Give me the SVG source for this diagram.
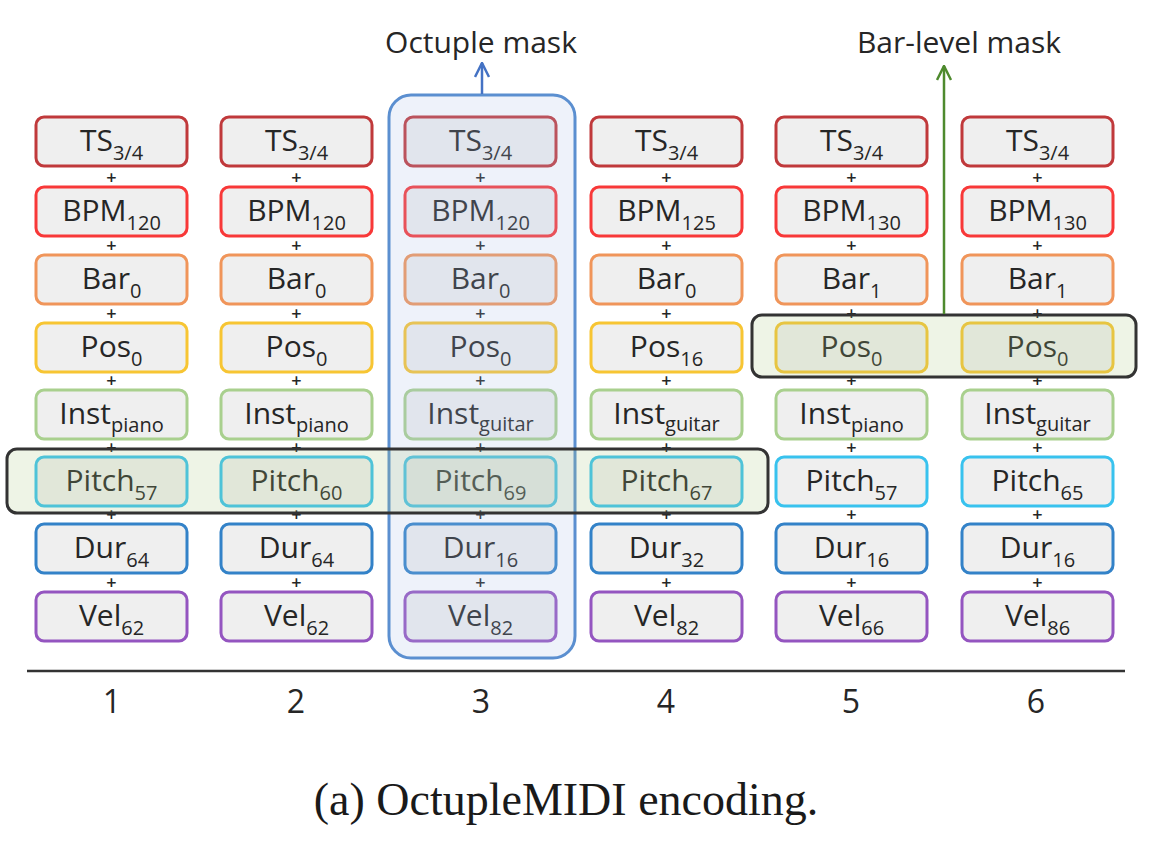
<svg xmlns="http://www.w3.org/2000/svg" width="1159" height="845" viewBox="0 0 1159 845">
<defs>
<style>
.box{fill:#efefef;stroke-width:3}
.ts{stroke:#c0393b}
.bpm{stroke:#f83838}
.bar{stroke:#f0955a}
.pos{stroke:#f7c533}
.inst{stroke:#a9d08e}
.pitch{stroke:#38c2ee}
.dur{stroke:#3382c8}
.vel{stroke:#9455c0}
.lbl{font-family:"Open Sans","Noto Sans",sans-serif;font-size:30px;fill:#262626;text-anchor:middle}
.sub{font-size:20px}
.plus{font-family:"Open Sans","Noto Sans",sans-serif;font-size:18px;font-weight:600;fill:#262626;text-anchor:middle}
.num{font-family:"Open Sans","Noto Sans",sans-serif;font-size:32px;fill:#262626;text-anchor:middle}
.mask{fill:#aac882;fill-opacity:0.2;stroke:#333333;stroke-width:3}
</style>
<marker id="ahBlue" viewBox="0 0 16 16" refX="15" refY="8" markerWidth="16" markerHeight="16" markerUnits="userSpaceOnUse" orient="auto">
<path d="M1,1 L15,8 L1,15" fill="none" stroke="#4472c4" stroke-width="2.5"/>
</marker>
<marker id="ahGreen" viewBox="0 0 16 16" refX="15" refY="8" markerWidth="16" markerHeight="16" markerUnits="userSpaceOnUse" orient="auto">
<path d="M1,1 L15,8 L1,15" fill="none" stroke="#4e8a2e" stroke-width="2.5"/>
</marker>
</defs>
<rect width="1159" height="845" fill="#ffffff"/>

<!-- Column 1 -->
<g id="col1">
<g id="c1-ts"><rect class="box ts" x="36" y="117" width="151" height="49" rx="8"/><text class="lbl" x="111.5" y="151">TS<tspan class="sub" dy="9">3/4</tspan></text></g>
<g id="c1-bpm"><rect class="box bpm" x="36" y="187" width="151" height="49" rx="8"/><text class="lbl" x="111.5" y="221">BPM<tspan class="sub" dy="9">120</tspan></text></g>
<g id="c1-bar"><rect class="box bar" x="36" y="255" width="151" height="49" rx="8"/><text class="lbl" x="111.5" y="289">Bar<tspan class="sub" dy="9">0</tspan></text></g>
<g id="c1-pos"><rect class="box pos" x="36" y="323" width="151" height="49" rx="8"/><text class="lbl" x="111.5" y="357">Pos<tspan class="sub" dy="9">0</tspan></text></g>
<g id="c1-inst"><rect class="box inst" x="36" y="390" width="151" height="49" rx="8"/><text class="lbl" x="111.5" y="424">Inst<tspan class="sub" dy="8">piano</tspan></text></g>
<g id="c1-pitch"><rect class="box pitch" x="36" y="457" width="151" height="49" rx="8"/><text class="lbl" x="111.5" y="491">Pitch<tspan class="sub" dy="9">57</tspan></text></g>
<g id="c1-dur"><rect class="box dur" x="36" y="524" width="151" height="49" rx="8"/><text class="lbl" x="111.5" y="558">Dur<tspan class="sub" dy="9">64</tspan></text></g>
<g id="c1-vel"><rect class="box vel" x="36" y="592" width="151" height="49" rx="8"/><text class="lbl" x="111.5" y="626">Vel<tspan class="sub" dy="9">62</tspan></text></g>
</g>

<!-- Column 2 -->
<g id="col2">
<g id="c2-ts"><rect class="box ts" x="221" y="117" width="151" height="49" rx="8"/><text class="lbl" x="296.5" y="151">TS<tspan class="sub" dy="9">3/4</tspan></text></g>
<g id="c2-bpm"><rect class="box bpm" x="221" y="187" width="151" height="49" rx="8"/><text class="lbl" x="296.5" y="221">BPM<tspan class="sub" dy="9">120</tspan></text></g>
<g id="c2-bar"><rect class="box bar" x="221" y="255" width="151" height="49" rx="8"/><text class="lbl" x="296.5" y="289">Bar<tspan class="sub" dy="9">0</tspan></text></g>
<g id="c2-pos"><rect class="box pos" x="221" y="323" width="151" height="49" rx="8"/><text class="lbl" x="296.5" y="357">Pos<tspan class="sub" dy="9">0</tspan></text></g>
<g id="c2-inst"><rect class="box inst" x="221" y="390" width="151" height="49" rx="8"/><text class="lbl" x="296.5" y="424">Inst<tspan class="sub" dy="8">piano</tspan></text></g>
<g id="c2-pitch"><rect class="box pitch" x="221" y="457" width="151" height="49" rx="8"/><text class="lbl" x="296.5" y="491">Pitch<tspan class="sub" dy="9">60</tspan></text></g>
<g id="c2-dur"><rect class="box dur" x="221" y="524" width="151" height="49" rx="8"/><text class="lbl" x="296.5" y="558">Dur<tspan class="sub" dy="9">64</tspan></text></g>
<g id="c2-vel"><rect class="box vel" x="221" y="592" width="151" height="49" rx="8"/><text class="lbl" x="296.5" y="626">Vel<tspan class="sub" dy="9">62</tspan></text></g>
</g>

<!-- Column 3 -->
<g id="col3">
<g id="c3-ts"><rect class="box ts" x="405" y="117" width="151" height="49" rx="8"/><text class="lbl" x="480.5" y="151">TS<tspan class="sub" dy="9">3/4</tspan></text></g>
<g id="c3-bpm"><rect class="box bpm" x="405" y="187" width="151" height="49" rx="8"/><text class="lbl" x="480.5" y="221">BPM<tspan class="sub" dy="9">120</tspan></text></g>
<g id="c3-bar"><rect class="box bar" x="405" y="255" width="151" height="49" rx="8"/><text class="lbl" x="480.5" y="289">Bar<tspan class="sub" dy="9">0</tspan></text></g>
<g id="c3-pos"><rect class="box pos" x="405" y="323" width="151" height="49" rx="8"/><text class="lbl" x="480.5" y="357">Pos<tspan class="sub" dy="9">0</tspan></text></g>
<g id="c3-inst"><rect class="box inst" x="405" y="390" width="151" height="49" rx="8"/><text class="lbl" x="480.5" y="424">Inst<tspan class="sub" dy="7">guitar</tspan></text></g>
<g id="c3-pitch"><rect class="box pitch" x="405" y="457" width="151" height="49" rx="8"/><text class="lbl" x="480.5" y="491">Pitch<tspan class="sub" dy="9">69</tspan></text></g>
<g id="c3-dur"><rect class="box dur" x="405" y="524" width="151" height="49" rx="8"/><text class="lbl" x="480.5" y="558">Dur<tspan class="sub" dy="9">16</tspan></text></g>
<g id="c3-vel"><rect class="box vel" x="405" y="592" width="151" height="49" rx="8"/><text class="lbl" x="480.5" y="626">Vel<tspan class="sub" dy="9">82</tspan></text></g>
</g>

<!-- Column 4 -->
<g id="col4">
<g id="c4-ts"><rect class="box ts" x="591" y="117" width="151" height="49" rx="8"/><text class="lbl" x="666.5" y="151">TS<tspan class="sub" dy="9">3/4</tspan></text></g>
<g id="c4-bpm"><rect class="box bpm" x="591" y="187" width="151" height="49" rx="8"/><text class="lbl" x="666.5" y="221">BPM<tspan class="sub" dy="9">125</tspan></text></g>
<g id="c4-bar"><rect class="box bar" x="591" y="255" width="151" height="49" rx="8"/><text class="lbl" x="666.5" y="289">Bar<tspan class="sub" dy="9">0</tspan></text></g>
<g id="c4-pos"><rect class="box pos" x="591" y="323" width="151" height="49" rx="8"/><text class="lbl" x="666.5" y="357">Pos<tspan class="sub" dy="9">16</tspan></text></g>
<g id="c4-inst"><rect class="box inst" x="591" y="390" width="151" height="49" rx="8"/><text class="lbl" x="666.5" y="424">Inst<tspan class="sub" dy="7">guitar</tspan></text></g>
<g id="c4-pitch"><rect class="box pitch" x="591" y="457" width="151" height="49" rx="8"/><text class="lbl" x="666.5" y="491">Pitch<tspan class="sub" dy="9">67</tspan></text></g>
<g id="c4-dur"><rect class="box dur" x="591" y="524" width="151" height="49" rx="8"/><text class="lbl" x="666.5" y="558">Dur<tspan class="sub" dy="9">32</tspan></text></g>
<g id="c4-vel"><rect class="box vel" x="591" y="592" width="151" height="49" rx="8"/><text class="lbl" x="666.5" y="626">Vel<tspan class="sub" dy="9">82</tspan></text></g>
</g>

<!-- Column 5 -->
<g id="col5">
<g id="c5-ts"><rect class="box ts" x="776" y="117" width="151" height="49" rx="8"/><text class="lbl" x="851.5" y="151">TS<tspan class="sub" dy="9">3/4</tspan></text></g>
<g id="c5-bpm"><rect class="box bpm" x="776" y="187" width="151" height="49" rx="8"/><text class="lbl" x="851.5" y="221">BPM<tspan class="sub" dy="9">130</tspan></text></g>
<g id="c5-bar"><rect class="box bar" x="776" y="255" width="151" height="49" rx="8"/><text class="lbl" x="851.5" y="289">Bar<tspan class="sub" dy="9">1</tspan></text></g>
<g id="c5-pos"><rect class="box pos" x="776" y="323" width="151" height="49" rx="8"/><text class="lbl" x="851.5" y="357">Pos<tspan class="sub" dy="9">0</tspan></text></g>
<g id="c5-inst"><rect class="box inst" x="776" y="390" width="151" height="49" rx="8"/><text class="lbl" x="851.5" y="424">Inst<tspan class="sub" dy="8">piano</tspan></text></g>
<g id="c5-pitch"><rect class="box pitch" x="776" y="457" width="151" height="49" rx="8"/><text class="lbl" x="851.5" y="491">Pitch<tspan class="sub" dy="9">57</tspan></text></g>
<g id="c5-dur"><rect class="box dur" x="776" y="524" width="151" height="49" rx="8"/><text class="lbl" x="851.5" y="558">Dur<tspan class="sub" dy="9">16</tspan></text></g>
<g id="c5-vel"><rect class="box vel" x="776" y="592" width="151" height="49" rx="8"/><text class="lbl" x="851.5" y="626">Vel<tspan class="sub" dy="9">66</tspan></text></g>
</g>

<!-- Column 6 -->
<g id="col6">
<g id="c6-ts"><rect class="box ts" x="962" y="117" width="151" height="49" rx="8"/><text class="lbl" x="1037.5" y="151">TS<tspan class="sub" dy="9">3/4</tspan></text></g>
<g id="c6-bpm"><rect class="box bpm" x="962" y="187" width="151" height="49" rx="8"/><text class="lbl" x="1037.5" y="221">BPM<tspan class="sub" dy="9">130</tspan></text></g>
<g id="c6-bar"><rect class="box bar" x="962" y="255" width="151" height="49" rx="8"/><text class="lbl" x="1037.5" y="289">Bar<tspan class="sub" dy="9">1</tspan></text></g>
<g id="c6-pos"><rect class="box pos" x="962" y="323" width="151" height="49" rx="8"/><text class="lbl" x="1037.5" y="357">Pos<tspan class="sub" dy="9">0</tspan></text></g>
<g id="c6-inst"><rect class="box inst" x="962" y="390" width="151" height="49" rx="8"/><text class="lbl" x="1037.5" y="424">Inst<tspan class="sub" dy="7">guitar</tspan></text></g>
<g id="c6-pitch"><rect class="box pitch" x="962" y="457" width="151" height="49" rx="8"/><text class="lbl" x="1037.5" y="491">Pitch<tspan class="sub" dy="9">65</tspan></text></g>
<g id="c6-dur"><rect class="box dur" x="962" y="524" width="151" height="49" rx="8"/><text class="lbl" x="1037.5" y="558">Dur<tspan class="sub" dy="9">16</tspan></text></g>
<g id="c6-vel"><rect class="box vel" x="962" y="592" width="151" height="49" rx="8"/><text class="lbl" x="1037.5" y="626">Vel<tspan class="sub" dy="9">86</tspan></text></g>
</g>

<!-- plus signs between stacked tokens -->
<g id="plus-signs" class="plus">
<text x="111.5" y="184">+</text><text x="111.5" y="252">+</text><text x="111.5" y="320">+</text><text x="111.5" y="387">+</text><text x="111.5" y="454">+</text><text x="111.5" y="521">+</text><text x="111.5" y="589">+</text>
<text x="296.5" y="184">+</text><text x="296.5" y="252">+</text><text x="296.5" y="320">+</text><text x="296.5" y="387">+</text><text x="296.5" y="454">+</text><text x="296.5" y="521">+</text><text x="296.5" y="589">+</text>
<text x="480.5" y="184">+</text><text x="480.5" y="252">+</text><text x="480.5" y="320">+</text><text x="480.5" y="387">+</text><text x="480.5" y="454">+</text><text x="480.5" y="521">+</text><text x="480.5" y="589">+</text>
<text x="666.5" y="184">+</text><text x="666.5" y="252">+</text><text x="666.5" y="320">+</text><text x="666.5" y="387">+</text><text x="666.5" y="454">+</text><text x="666.5" y="521">+</text><text x="666.5" y="589">+</text>
<text x="851.5" y="184">+</text><text x="851.5" y="252">+</text><text x="851.5" y="320">+</text><text x="851.5" y="387">+</text><text x="851.5" y="454">+</text><text x="851.5" y="521">+</text><text x="851.5" y="589">+</text>
<text x="1037.5" y="184">+</text><text x="1037.5" y="252">+</text><text x="1037.5" y="320">+</text><text x="1037.5" y="387">+</text><text x="1037.5" y="454">+</text><text x="1037.5" y="521">+</text><text x="1037.5" y="589">+</text>
</g>

<!-- masks -->
<g id="octuple-mask">
<rect x="389" y="95" width="186" height="563" rx="22" fill="#aabee6" fill-opacity="0.2" stroke="#5b8fd0" stroke-width="3"/>
<text class="lbl" x="481" y="53">Octuple mask</text>
</g>
<g id="pitch-mask"><rect class="mask" x="7" y="449" width="761" height="64" rx="10"/></g>
<g id="bar-level-mask">
<rect class="mask" x="752" y="315" width="384" height="62" rx="10"/>
<text class="lbl" x="959" y="53">Bar-level mask</text>
</g>

<!-- connectors -->
<g id="connectors">
<line x1="482" y1="94" x2="482" y2="63" stroke="#4472c4" stroke-width="2.5" marker-end="url(#ahBlue)"/>
<line x1="944" y1="314" x2="944" y2="66" stroke="#4e8a2e" stroke-width="2.5" marker-end="url(#ahGreen)"/>
</g>

<!-- axis -->
<g id="axis">
<line x1="27" y1="671" x2="1125" y2="671" stroke="#333333" stroke-width="2.5"/>
<text class="num" x="112" y="713">1</text>
<text class="num" x="296" y="713">2</text>
<text class="num" x="481" y="713">3</text>
<text class="num" x="666" y="713">4</text>
<text class="num" x="851" y="713">5</text>
<text class="num" x="1036" y="713">6</text>
</g>

<text id="caption" x="566" y="815" font-family="'Liberation Serif','Times New Roman',serif" font-size="46" fill="#1a1a1a" text-anchor="middle">(a) OctupleMIDI encoding.</text>
</svg>
